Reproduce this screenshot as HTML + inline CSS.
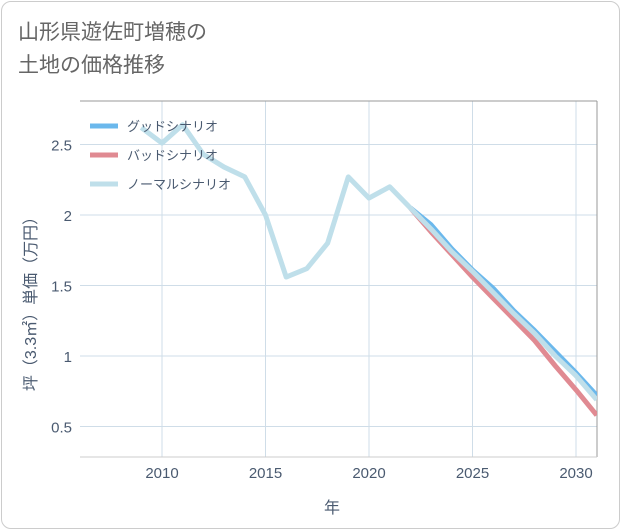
<!DOCTYPE html>
<html><head><meta charset="utf-8"><style>
body{margin:0;background:#fff;font-family:"Liberation Sans","Noto Sans CJK JP",sans-serif;}
.frame{position:absolute;left:1px;top:1px;width:617px;height:526px;border:1px solid #ccc;border-radius:10px;}
.title{position:absolute;left:18px;top:16px;font-size:21px;line-height:33px;color:#666;}
</style></head><body>
<div class="frame"></div>
<div class="title">山形県遊佐町増穂の<br>土地の価格推移</div>
<svg id="c" width="621" height="530" style="position:absolute;left:0;top:0"></svg>
<script>
const years=[2009,2010,2011,2012,2013,2014,2015,2016,2017,2018,2019,2020,2021,2022,2023,2024,2025,2026,2027,2028,2029,2030,2031];
const normal=[2.62,2.51,2.64,2.43,2.34,2.27,2.0,1.56,1.62,1.80,2.27,2.12,2.20,2.05,1.90,1.74,1.60,1.45,1.30,1.16,1.00,0.86,0.69];
const goodYears=[2022,2023,2024,2025,2026,2027,2028,2029,2030,2031];
const good=[2.05,1.93,1.76,1.61,1.48,1.32,1.18,1.03,0.88,0.72];
const bad=[2.05,1.88,1.72,1.56,1.41,1.26,1.11,0.93,0.76,0.58];
const xTicks=[2010,2015,2020,2025,2030];
const yTicks=[0.5,1,1.5,2,2.5];
const L=80,R=597,T=101,B=457;
const x=v=>162+(v-2010)*20.7;
const y=v=>215-(v-2)*141;
const svg=document.getElementById('c');const NS='http://www.w3.org/2000/svg';
function mk(t,a){const e=document.createElementNS(NS,t);for(const k in a)e.setAttribute(k,a[k]);svg.appendChild(e);return e;}
const cp=mk('clipPath',{id:'cl'});const cr=document.createElementNS(NS,'rect');cr.setAttribute('x',L);cr.setAttribute('y',T);cr.setAttribute('width',R-L);cr.setAttribute('height',B-T);cp.appendChild(cr);
xTicks.forEach(t=>{const l=mk('line',{x1:x(t),x2:x(t),y1:T,y2:B,stroke:'#cfdde8'});


const tx=mk('text',{x:x(t),y:478,'text-anchor':'middle','font-size':15,fill:'#4a5a70'});tx.textContent=t;

});
yTicks.forEach(t=>{const l=mk('line',{x1:L,x2:R,y1:y(t),y2:y(t),stroke:'#cfdde8'});


const tx=mk('text',{x:72,y:y(t)+6,'text-anchor':'end','font-size':15,fill:'#4a5a70'});tx.textContent=t;

});
mk('line',{x1:L,x2:R,y1:T,y2:T,stroke:'#999'});
mk('line',{x1:R,x2:R,y1:T,y2:B,stroke:'#999'});
mk('line',{x1:L,x2:R,y1:B,y2:B,stroke:'#ccc'});
function series(xs,vs,col,name){const p=mk('polyline',{points:xs.map((v,i)=>x(v)+','+y(vs[i])).join(' '),fill:'none',stroke:col,'stroke-width':5,'stroke-linejoin':'round','clip-path':'url(#cl)'});

}
series(goodYears,good,'#6bb8ec','good-scenario-line');
series(goodYears,bad,'#e08a92','bad-scenario-line');
series(years,normal,'#bfdfea','normal-scenario-line');
const leg=[['グッドシナリオ','#6bb8ec'],['バッドシナリオ','#e08a92'],['ノーマルシナリオ','#bfdfea']];
leg.forEach((d,i)=>{const yy=126+i*29;const l=mk('line',{x1:90,x2:118,y1:yy,y2:yy,stroke:d[1],'stroke-width':5});


const t=mk('text',{x:127,y:yy+5,'font-size':13,fill:'#4a5a70'});t.textContent=d[0];

});
const xt=mk('text',{x:332,y:513,'text-anchor':'middle','font-size':16,fill:'#4a5a70'});xt.textContent='年';


const yt=mk('text',{x:0,y:0,transform:'translate(36,300) rotate(-90)','text-anchor':'middle','font-size':16,fill:'#4a5a70'});yt.textContent='坪（3.3㎡）単価（万円）';


</script>
</body></html>
